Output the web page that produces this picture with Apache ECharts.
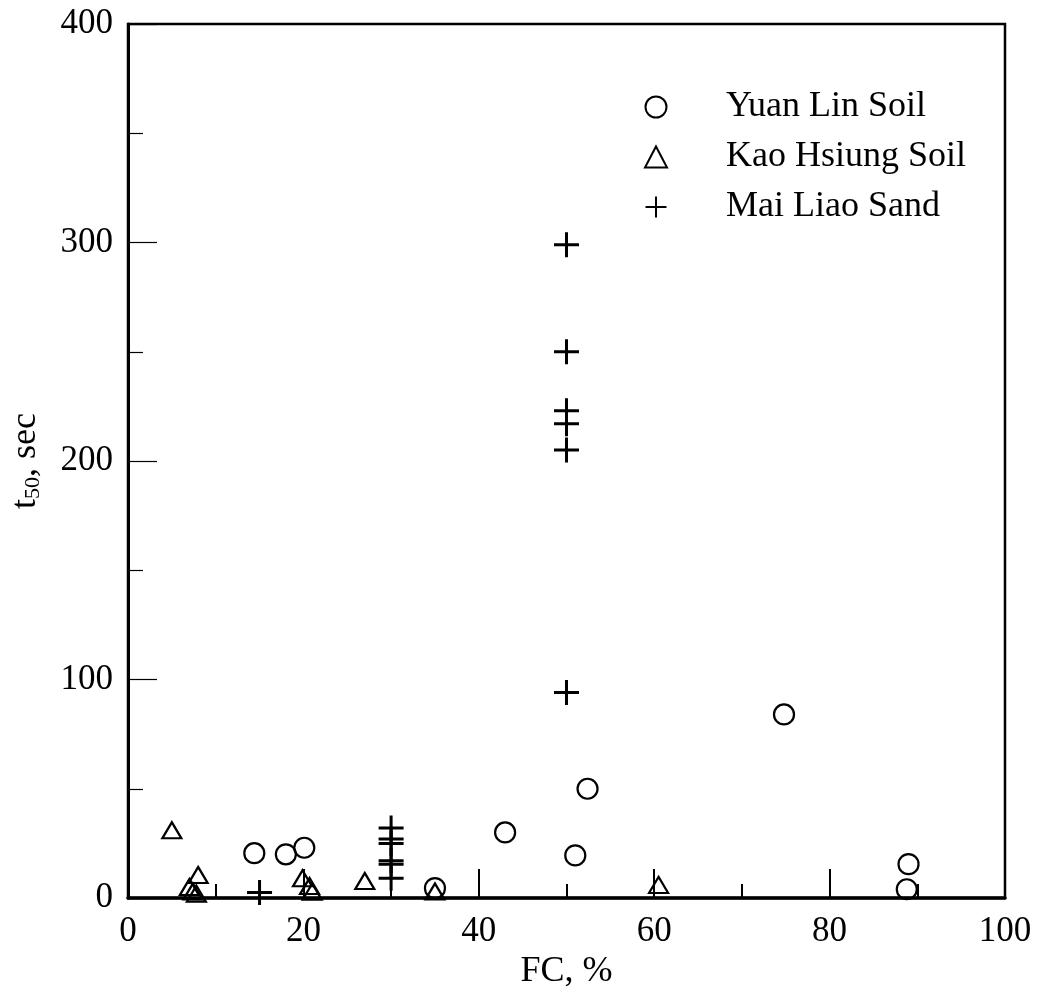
<!DOCTYPE html>
<html>
<head>
<meta charset="utf-8">
<script src="https://cdn.jsdelivr.net/npm/echarts@6/dist/echarts.min.js"></script>
<style>html,body{margin:0;padding:0;background:#fff}#c{width:1039px;height:999px}</style>
</head>
<body>
<div id="c"></div>
<script>
// FC (%) and t50 (sec) pairs
const yuanLin = [[14.4,20.5],[18,20],[20.1,23],[35,4.5],[43,30],[51,19.5],[52.4,50],[74.8,84],[89,15.5],[88.8,4]];
const kaoHsiung = [[5,31],[8,10.5],[7,5],[7.4,3],[7.8,2],[19.9,9],[20.7,5.5],[21,2.9],[27,7.8],[35,3],[60.5,6]];
const maiLiao = [[15,2.5],[30,32],[30,27],[30,25],[30,17],[30,15.5],[30,9],[50,299],[50,250],[50,223],[50,217],[50,205],[50,94]];
const seriesNames = ['Yuan Lin Soil','Kao Hsiung Soil','Mai Liao Sand'];

const font = 'Liberation Serif';
const chart = echarts.init(document.getElementById('c'), null, {renderer:'canvas'});
const crossPath = 'path://M12,0L12,24M0,12L24,12';
chart.setOption({
  animation:false,
  backgroundColor:'#fff',
  grid:{left:127,right:34,top:24,bottom:101,show:true,borderColor:'#000',borderWidth:2.5,backgroundColor:'transparent'},
  legend:{
    orient:'vertical', left:639, top:84, itemWidth:22, itemHeight:21, itemGap:14,
    textStyle:{fontFamily:font,fontSize:36,color:'#000',padding:[0,0,0,54]},
    data:seriesNames
  },
  xAxis:{
    type:'value', min:0, max:100, interval:20,
    name:'FC, %', nameLocation:'middle', nameGap:48,
    nameTextStyle:{fontFamily:font,fontSize:36,color:'#000'},
    axisLine:{lineStyle:{color:'#000',width:3.5}},
    axisTick:{inside:true,length:29,lineStyle:{color:'#000',width:2}},
    minorTick:{show:true,splitNumber:2,length:14,lineStyle:{color:'#000',width:2}},
    axisLabel:{fontFamily:font,fontSize:35,color:'#000',margin:16},
    splitLine:{show:false}
  },
  yAxis:{
    type:'value', min:0, max:400, interval:100,
    name:'{a|t}{s|50}{a|, sec}', nameLocation:'middle', nameGap:84,
    nameTextStyle:{fontFamily:font,fontSize:36,color:'#000',
      rich:{a:{fontFamily:font,fontSize:36,color:'#000'},s:{fontFamily:font,fontSize:22,color:'#000',verticalAlign:'bottom',padding:[12,0,0,0]}}},
    axisLine:{lineStyle:{color:'#000',width:3}},
    axisTick:{inside:true,length:29,lineStyle:{color:'#000',width:1.2}},
    minorTick:{show:true,splitNumber:2,length:15,lineStyle:{color:'#000',width:1.2}},
    axisLabel:{fontFamily:font,fontSize:35,color:'#000',margin:15},
    splitLine:{show:false}
  },
  series:[
    {name:seriesNames[0],type:'scatter',data:yuanLin,symbol:'circle',symbolSize:20,
     itemStyle:{color:'transparent',borderColor:'#000',borderWidth:2.2,opacity:1}},
    {name:seriesNames[1],type:'scatter',data:kaoHsiung,symbol:'triangle',symbolSize:[19,16],
     itemStyle:{color:'transparent',borderColor:'#000',borderWidth:2.2,opacity:1}},
    {name:seriesNames[2],type:'scatter',data:maiLiao,symbol:crossPath,symbolSize:25,
     itemStyle:{color:'transparent',borderColor:'#000',borderWidth:3,opacity:1}}
  ]
});
</script>
</body>
</html>
